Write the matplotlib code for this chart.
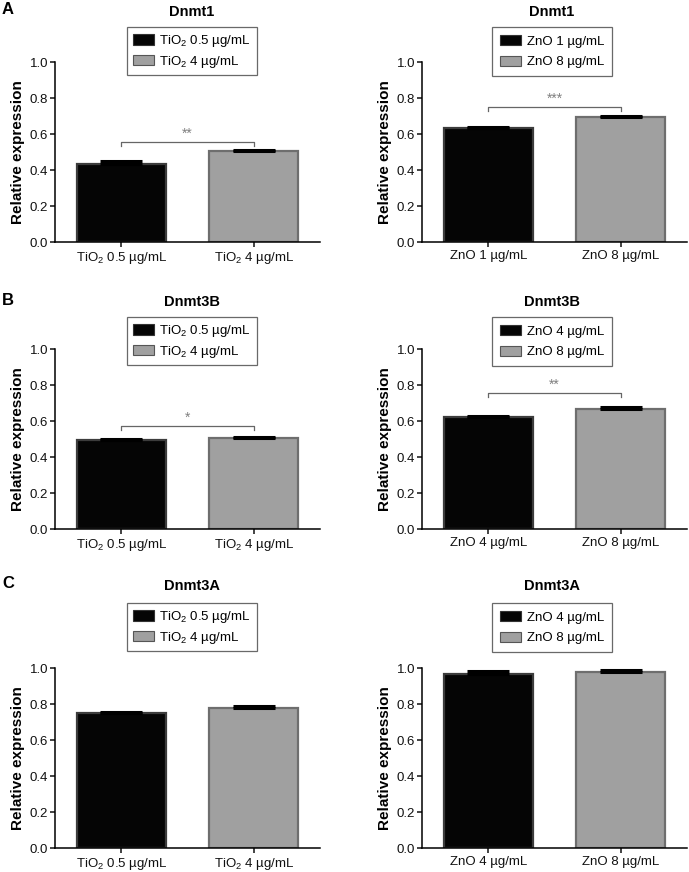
import matplotlib
matplotlib.use('Agg')
import matplotlib.pyplot as plt
from matplotlib.patches import Patch

plt.rcParams['font.family'] = ['Liberation Sans', 'DejaVu Sans']
plt.rcParams['mathtext.fontset'] = 'custom'
plt.rcParams['mathtext.rm'] = 'Liberation Sans'
plt.rcParams['mathtext.it'] = 'Liberation Sans:italic'
plt.rcParams['mathtext.bf'] = 'Liberation Sans:bold'

# data
genes = ['Dnmt1', 'Dnmt3B', 'Dnmt3A']
panel_letters = ['A', 'B', 'C']

tio2_labels = ['TiO$_2$ 0.5 µg/mL', 'TiO$_2$ 4 µg/mL']
zno_labels_dnmt1 = ['ZnO 1 µg/mL', 'ZnO 8 µg/mL']
zno_labels = ['ZnO 4 µg/mL', 'ZnO 8 µg/mL']

dnmt1_tio2 = [0.435, 0.505]
dnmt1_tio2_err = [0.015, 0.004]
dnmt1_zno = [0.635, 0.697]
dnmt1_zno_err = [0.005, 0.005]

dnmt3b_tio2 = [0.493, 0.503]
dnmt3b_tio2_err = [0.007, 0.009]
dnmt3b_zno = [0.622, 0.668]
dnmt3b_zno_err = [0.007, 0.009]

dnmt3a_tio2 = [0.750, 0.778]
dnmt3a_tio2_err = [0.007, 0.010]
dnmt3a_zno = [0.968, 0.978]
dnmt3a_zno_err = [0.013, 0.009]

# significance brackets: (height, label) or None
sig_tio2 = [(0.555, '**'), (0.571, '*'), None]
sig_zno = [(0.748, '***'), (0.753, '**'), None]

BAR_COLORS = ['#050505', '#a0a0a0']
EDGE_COLORS = ['#3c3c3c', '#6e6e6e']

W, H = 689, 872


def px_axes(fig, left, top, width, height):
    # axes placed in pixel coordinates (from top-left)
    return fig.add_axes([left / W, 1 - (top + height) / H, width / W, height / H])


def draw_panel(ax, title, labels, values, errs, sig, leg_x, leg_top, title_y):
    x = [0, 1]
    ax.bar(x, values, width=0.67, color=BAR_COLORS, edgecolor=EDGE_COLORS, linewidth=1.6, zorder=2)
    for xi, v, e in zip(x, values, errs):
        ax.errorbar(xi, v, yerr=[[0], [e]], fmt='none', ecolor='black', elinewidth=1.5,
                    capsize=15, capthick=2.2, zorder=3)

    ax.set_xlim(-0.5, 1.5)
    ax.set_ylim(0, 1.0)
    ax.set_yticks([0.0, 0.2, 0.4, 0.6, 0.8, 1.0])
    ax.set_yticklabels(['0.0', '0.2', '0.4', '0.6', '0.8', '1.0'])
    ax.set_xticks(x)
    ax.set_xticklabels(labels)
    ax.tick_params(axis='both', labelsize=9.5, length=3.5, width=1.1, direction='out', colors='#111111')
    ax.tick_params(axis='y', pad=1.5)
    ax.tick_params(axis='x', pad=2)
    ax.spines['top'].set_visible(False)
    ax.spines['right'].set_visible(False)
    ax.spines['left'].set_linewidth(1.1)
    ax.spines['bottom'].set_linewidth(1.1)
    ax.set_ylabel('Relative expression', fontsize=11, fontweight='bold', labelpad=3)

    if sig is not None:
        y, txt = sig
        drop = 0.02
        ax.plot([0, 0, 1, 1], [y - drop, y, y, y - drop], color='#666666', lw=0.9, zorder=3)
        ax.text(0.5, y + 0.008, txt, ha='center', va='bottom', fontsize=10, color='#808080')

    fig = ax.figure
    fig.text(leg_x / W, 1 - title_y / H, title, ha='center', va='center', fontsize=10.5, fontweight='bold')

    handles = [Patch(facecolor=BAR_COLORS[0], edgecolor='#333333', linewidth=0.8),
               Patch(facecolor=BAR_COLORS[1], edgecolor='#555555', linewidth=0.8)]
    # plain labels are shorter than the subscripted ones, so space them out a bit more
    spacing = 0.35 if '$' in labels[0] else 0.6
    pad = 0.45 if '$' in labels[0] else 0.6
    leg = fig.legend(handles, labels, loc='upper center', bbox_to_anchor=(leg_x / W, 1 - leg_top / H),
                     fontsize=9.5, frameon=True, fancybox=False, handlelength=1.6, handleheight=0.85,
                     handletextpad=0.4, borderpad=pad, labelspacing=spacing, borderaxespad=0)
    leg.get_frame().set_edgecolor('#444444')
    leg.get_frame().set_linewidth(0.9)


fig = plt.figure(figsize=(W / 100, H / 100), dpi=100)

tio2_data = [(dnmt1_tio2, dnmt1_tio2_err), (dnmt3b_tio2, dnmt3b_tio2_err), (dnmt3a_tio2, dnmt3a_tio2_err)]
zno_data = [(dnmt1_zno, dnmt1_zno_err), (dnmt3b_zno, dnmt3b_zno_err), (dnmt3a_zno, dnmt3a_zno_err)]
zno_label_sets = [zno_labels_dnmt1, zno_labels, zno_labels]

axes_tops = [62, 349, 668]
legend_tops = [27, 317, 603]
title_ys = [12, 302, 586]
letter_ys = [10, 300, 584]

for i in range(3):
    # left column: TiO2
    ax = px_axes(fig, 55, axes_tops[i], 265, 180)
    draw_panel(ax, genes[i], tio2_labels, tio2_data[i][0], tio2_data[i][1], sig_tio2[i],
               192, legend_tops[i], title_ys[i])
    # right column: ZnO
    ax = px_axes(fig, 422, axes_tops[i], 265, 180)
    draw_panel(ax, genes[i], zno_label_sets[i], zno_data[i][0], zno_data[i][1], sig_zno[i],
               552, legend_tops[i], title_ys[i])
    fig.text(2 / W, 1 - letter_ys[i] / H, panel_letters[i], ha='left', va='center',
             fontsize=12, fontweight='bold')

fig.savefig('out.png', dpi=100)
